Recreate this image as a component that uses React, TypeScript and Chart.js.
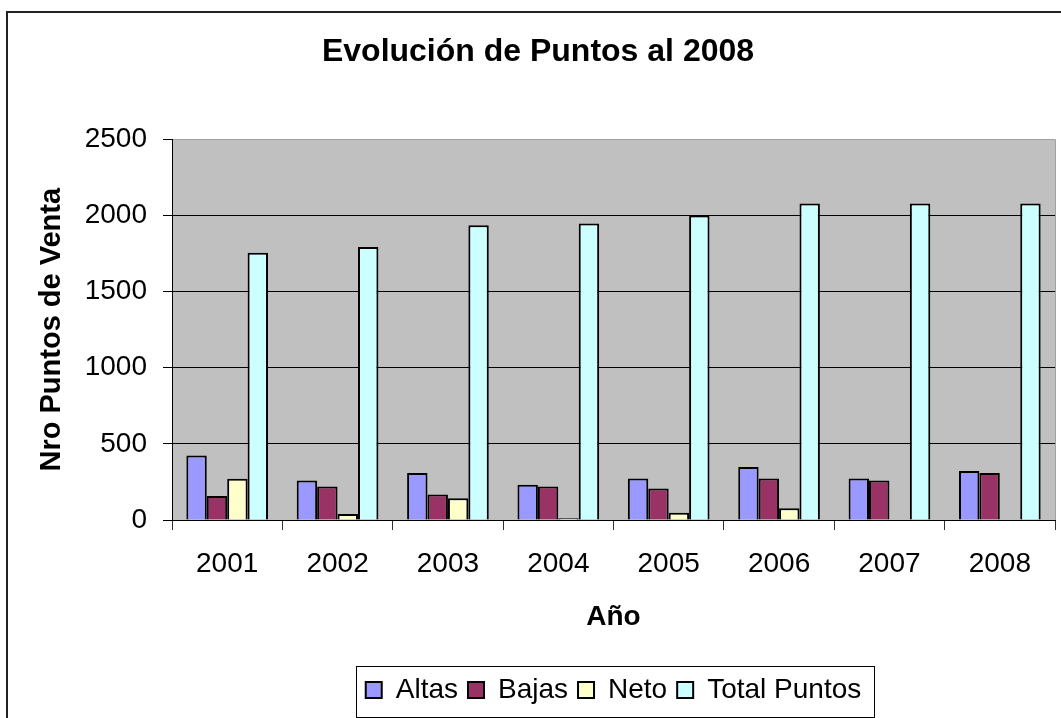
import { useEffect, useRef } from 'react';
import { Chart, registerables } from 'chart.js';

Chart.register(...registerables);

// Años y series de puntos de venta
const years = ['2001', '2002', '2003', '2004', '2005', '2006', '2007', '2008'];
const altas = [424, 260, 309, 231, 273, 348, 273, 322];
const bajas = [157, 220, 167, 220, 207, 273, 260, 309];
const neto = [271, 40, 143, 11, 48, 77, 0, 0];
const totalPuntos = [1755, 1794, 1936, 1947, 2000, 2079, 2079, 2079];
const yTicks = [0, 500, 1000, 1500, 2000, 2500];

const FONT = "'Liberation Sans', Arial, Helvetica, sans-serif";
const TITLE_CENTER_X = 538;

const framePlugin = {
  id: 'excelFrame',
  afterLayout(chart: any) {
    const area = chart.chartArea;
    const legend = chart.legend;
    if (legend) {
      const d = (area.left + area.right) / 2 - (legend.left + legend.right) / 2;
      legend.left += d;
      legend.right += d;
    }
    const title = chart.titleBlock;
    if (title) {
      const d = TITLE_CENTER_X - (title.left + title.right) / 2;
      title.left += d;
      title.right += d;
    }
  },
  beforeDraw(chart: any) {
    const { ctx, chartArea: a } = chart;
    ctx.save();
    ctx.fillStyle = '#ffffff';
    ctx.fillRect(0, 0, chart.width, chart.height);
    ctx.fillStyle = '#c0c0c0';
    ctx.fillRect(a.left, a.top, a.right - a.left, a.bottom - a.top);
    ctx.restore();
  },
  afterDraw(chart: any) {
    const { ctx, chartArea: a } = chart;
    ctx.save();
    // right edge of the plot area
    ctx.strokeStyle = '#a0a0a0';
    ctx.lineWidth = 1;
    ctx.beginPath();
    ctx.moveTo(Math.round(a.right) + 0.5, a.top);
    ctx.lineTo(Math.round(a.right) + 0.5, a.bottom);
    ctx.stroke();

    // outer chart frame
    ctx.strokeStyle = '#222';
    ctx.lineWidth = 2;
    ctx.beginPath();
    ctx.moveTo(7, chart.height + 5);
    ctx.lineTo(7, 12);
    ctx.lineTo(chart.width + 5, 12);
    ctx.stroke();

    // legend box
    const hb = chart.legend && chart.legend.legendHitBoxes;
    if (hb && hb.length) {
      const first = hb[0];
      const last = hb[hb.length - 1];
      const left = Math.round(first.left - 10) + 0.5;
      const right = Math.round(last.left + last.width + 13) + 0.5;
      const top = Math.round(first.top - 10) + 0.5;
      const bottom = Math.round(first.top + 41) + 0.5;
      ctx.strokeStyle = '#000';
      ctx.lineWidth = 1;
      ctx.strokeRect(left, top, right - left, bottom - top);
    }
    ctx.restore();
  },
};

export default function App() {
  const canvasRef = useRef<HTMLCanvasElement | null>(null);

  useEffect(() => {
    const canvas = canvasRef.current;
    if (!canvas) return;

    const barStyle = { borderColor: '#000000', borderWidth: 2 };

    const chart = new Chart(canvas, {
      type: 'bar',
      data: {
        labels: years,
        datasets: [
          { label: 'Altas', data: altas, backgroundColor: '#9999ff', ...barStyle },
          { label: 'Bajas', data: bajas, backgroundColor: '#993366', ...barStyle },
          { label: 'Neto', data: neto, backgroundColor: '#ffffcc', ...barStyle },
          { label: 'Total Puntos', data: totalPuntos, backgroundColor: '#ccffff', ...barStyle },
        ],
      },
      options: {
        responsive: false,
        animation: false,
        devicePixelRatio: 1,
        layout: { padding: { left: 0, right: 6, top: 0, bottom: 4 } },
        datasets: {
          bar: { categoryPercentage: 0.74, barPercentage: 1 },
        },
        plugins: {
          title: {
            display: true,
            text: 'Evolución de Puntos al 2008',
            color: '#000',
            font: { family: FONT, size: 32, weight: 'bold' },
            padding: { top: 33, bottom: 68 },
          },
          legend: {
            display: true,
            position: 'bottom',
            labels: {
              color: '#000',
              font: { family: FONT, size: 28 },
              boxWidth: 16,
              boxHeight: 16,
              padding: 10,
            },
          },
          tooltip: { enabled: false },
        },
        scales: {
          x: {
            afterFit: (scale: any) => {
              scale.height = 146;
            },
            grid: {
              offset: true,
              drawOnChartArea: false,
              drawTicks: true,
              tickLength: 10,
              tickColor: '#333',
            },
            border: { display: true, color: '#000', width: 1 },
            ticks: {
              color: '#000',
              font: { family: FONT, size: 28 },
              padding: 17,
            },
            title: {
              display: true,
              text: 'Año',
              color: '#000',
              font: { family: FONT, size: 28, weight: 'bold' },
              padding: { top: 0, bottom: 32 },
            },
          },
          y: {
            min: yTicks[0],
            max: yTicks[yTicks.length - 1],
            afterFit: (scale: any) => {
              scale.width = 172;
            },
            afterBuildTicks: (scale: any) => {
              scale.ticks = yTicks.map((v) => ({ value: v }));
            },
            grid: {
              color: (ctx: any) =>
                ctx.tick && ctx.tick.value === yTicks[yTicks.length - 1] ? '#a0a0a0' : '#000',
              lineWidth: 1,
              drawTicks: true,
              tickLength: 9,
              tickColor: '#000',
            },
            border: { display: true, color: '#000', width: 1 },
            ticks: {
              color: '#000',
              font: { family: FONT, size: 28 },
              padding: 16,
              callback: (value: any) => String(value),
            },
            title: {
              display: true,
              text: 'Nro Puntos de Venta',
              color: '#000',
              font: { family: FONT, size: 29, weight: 'bold' },
              padding: { top: 35, bottom: 0 },
            },
          },
        },
      },
      plugins: [framePlugin],
    });

    return () => {
      chart.destroy();
    };
  }, []);

  return (
    <div style={{ position: 'absolute', left: 0, top: 0, width: 1061, height: 718 }}>
      <canvas ref={canvasRef} width={1061} height={718} style={{ display: 'block' }} />
    </div>
  );
}
